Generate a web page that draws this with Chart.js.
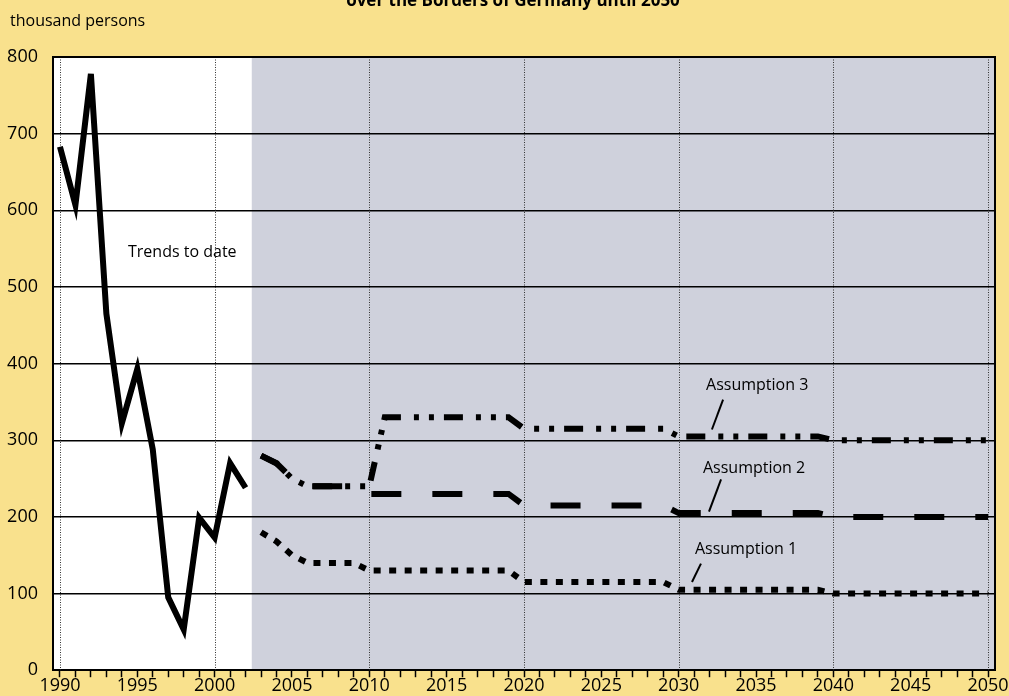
<!DOCTYPE html>
<html>
<head>
<meta charset="utf-8">
<script src="https://cdn.jsdelivr.net/npm/chart.js@4.4.1/dist/chart.umd.min.js"></script>
<style>
  html, body { margin: 0; padding: 0; background: #f9e18d; }
  #chart { display: block; }
</style>
</head>
<body>
<canvas id="chart" width="1009" height="696"></canvas>
<script>
// Observed net migration, thousand persons
const histYears = [1990, 1991, 1992, 1993, 1994, 1995, 1996, 1997, 1998, 1999, 2000, 2001, 2002];
const histValues = [683, 607, 778, 465, 322, 393, 288, 95, 53, 199, 173, 270, 238];

// Projection years and the three assumptions
const projYears = [2003, 2004, 2005, 2006, 2007, 2008, 2009, 2010, 2011, 2012, 2013, 2014, 2015, 2016,
  2017, 2018, 2019, 2020, 2021, 2022, 2023, 2024, 2025, 2026, 2027, 2028, 2029, 2030, 2031, 2032,
  2033, 2034, 2035, 2036, 2037, 2038, 2039, 2040, 2041, 2042, 2043, 2044, 2045, 2046, 2047, 2048,
  2049, 2050];
const assumption1 = [180, 168, 150, 140, 140, 140, 140, 130, 130, 130, 130, 130, 130, 130,
  130, 130, 130, 115, 115, 115, 115, 115, 115, 115, 115, 115, 115, 105, 105, 105,
  105, 105, 105, 105, 105, 105, 105, 100, 100, 100, 100, 100, 100, 100, 100, 100,
  100, 100];
const assumption2 = [280, 270, 250, 240, 240, 240, 240, 230, 230, 230, 230, 230, 230, 230,
  230, 230, 230, 215, 215, 215, 215, 215, 215, 215, 215, 215, 215, 205, 205, 205,
  205, 205, 205, 205, 205, 205, 205, 200, 200, 200, 200, 200, 200, 200, 200, 200,
  200, 200];
const assumption3 = [280, 270, 250, 240, 240, 240, 240, 240, 330, 330, 330, 330, 330, 330,
  330, 330, 330, 315, 315, 315, 315, 315, 315, 315, 315, 315, 315, 305, 305, 305,
  305, 305, 305, 305, 305, 305, 305, 300, 300, 300, 300, 300, 300, 300, 300, 300,
  300, 300];

const shadeFrom = 2002.4; // start of the projection period shading

const notes = [
  {text: 'Trends to date', year: 1994.4, value: 539},
  {text: 'Assumption 3', year: 2031.77, value: 365, from: [2032.87, 353], to: [2032.15, 314]},
  {text: 'Assumption 2', year: 2031.57, value: 257, from: [2032.74, 249], to: [2031.96, 207]},
  {text: 'Assumption 1', year: 2031.05, value: 151, from: [2031.44, 139], to: [2030.86, 115]}
];

const font = '"Open Sans", "Noto Sans", sans-serif';
const ink = '#000';

function points(years, values) {
  return years.map((y, i) => ({x: y, y: values[i]}));
}

const backdrop = {
  id: 'backdrop',
  beforeDraw(chart) {
    const {ctx, chartArea: a, scales: {x}} = chart;
    ctx.save();
    ctx.fillStyle = '#f9e18d';
    ctx.fillRect(0, 0, chart.width, chart.height);
    ctx.fillStyle = '#ffffff';
    ctx.fillRect(a.left, a.top, a.right - a.left, a.bottom - a.top);
    const gx = x.getPixelForValue(shadeFrom);
    ctx.fillStyle = '#cfd1dc';
    ctx.fillRect(gx, a.top, a.right - gx, a.bottom - a.top);
    ctx.restore();
  },
  beforeDatasetsDraw(chart) {
    // dotted decade lines
    const {ctx, chartArea: a, scales: {x}} = chart;
    ctx.save();
    ctx.strokeStyle = '#333';
    ctx.lineWidth = 1;
    ctx.setLineDash([1, 1.5]);
    x.ticks.forEach(t => {
      if (t.value % 10 !== 0) return;
      const px = Math.round(x.getPixelForValue(t.value)) + 0.5;
      ctx.beginPath();
      ctx.moveTo(px, a.top);
      ctx.lineTo(px, a.bottom);
      ctx.stroke();
    });
    ctx.restore();
  },
  afterDatasetsDraw(chart) {
    const {ctx, chartArea: a, scales: {x, y}} = chart;
    ctx.save();
    // frame top and right
    ctx.strokeStyle = ink;
    ctx.lineWidth = 2;
    ctx.beginPath();
    ctx.moveTo(a.left, a.top);
    ctx.lineTo(a.right, a.top);
    ctx.lineTo(a.right, a.bottom);
    ctx.stroke();

    ctx.fillStyle = ink;
    ctx.font = '16px ' + font;
    ctx.textBaseline = 'alphabetic';
    ctx.textAlign = 'left';
    notes.forEach(n => {
      ctx.fillText(n.text, x.getPixelForValue(n.year), y.getPixelForValue(n.value));
      if (n.from) {
        ctx.lineWidth = 2;
        ctx.beginPath();
        ctx.moveTo(x.getPixelForValue(n.from[0]), y.getPixelForValue(n.from[1]));
        ctx.lineTo(x.getPixelForValue(n.to[0]), y.getPixelForValue(n.to[1]));
        ctx.stroke();
      }
    });

    // unit label and the (cut off) title
    ctx.font = '16px ' + font;
    ctx.fillText('thousand persons', 10, 26);
    ctx.font = 'bold 17px ' + font;
    ctx.textAlign = 'center';
    ctx.fillText('over the Borders of Germany until 2050', 513, 6);
    ctx.restore();
  }
};

new Chart(document.getElementById('chart'), {
  type: 'line',
  data: {
    datasets: [
      {
        label: 'Trends to date',
        data: points(histYears, histValues),
        borderColor: ink,
        borderWidth: 6,
        borderJoinStyle: 'miter',
        pointRadius: 0,
        tension: 0
      },
      {
        label: 'Assumption 1',
        data: points(projYears, assumption1),
        borderColor: ink,
        borderWidth: 6,
        borderDash: [7, 8.5],
        borderJoinStyle: 'miter',
        pointRadius: 0
      },
      {
        label: 'Assumption 2',
        data: points(projYears, assumption2),
        borderColor: ink,
        borderWidth: 6,
        borderDash: [30, 31],
        borderJoinStyle: 'miter',
        pointRadius: 0
      },
      {
        label: 'Assumption 3',
        data: points(projYears, assumption3),
        borderColor: ink,
        borderWidth: 6,
        borderDash: [19, 13, 5, 10, 5, 10],
        borderJoinStyle: 'miter',
        pointRadius: 0
      }
    ]
  },
  options: {
    responsive: false,
    animation: false,
    devicePixelRatio: 1,
    layout: {padding: {top: 57, right: 14, bottom: 0, left: 0}},
    plugins: {
      legend: {display: false},
      tooltip: {enabled: false}
    },
    scales: {
      x: {
        type: 'linear',
        min: 1989.55,
        max: 2050.45,
        afterBuildTicks: axis => {
          const ticks = [];
          for (let yr = 1990; yr <= 2050; yr++) ticks.push({value: yr});
          axis.ticks = ticks;
        },
        ticks: {
          autoSkip: false,
          maxRotation: 0,
          padding: 0,
          color: ink,
          font: {family: font, size: 18, lineHeight: 1},
          callback: v => (v % 5 === 0 ? String(v) : '')
        },
        grid: {
          drawOnChartArea: false,
          drawTicks: true,
          tickLength: 7,
          tickColor: ink,
          tickWidth: 1.5
        },
        border: {color: ink, width: 2}
      },
      y: {
        min: 0,
        max: 800,
        afterFit: s => { s.width = 53; },
        ticks: {
          stepSize: 100,
          padding: 15,
          color: ink,
          font: {family: font, size: 18}
        },
        grid: {
          color: ink,
          lineWidth: 1.5,
          drawTicks: false
        },
        border: {color: ink, width: 2}
      }
    }
  },
  plugins: [backdrop]
});
</script>
</body>
</html>
